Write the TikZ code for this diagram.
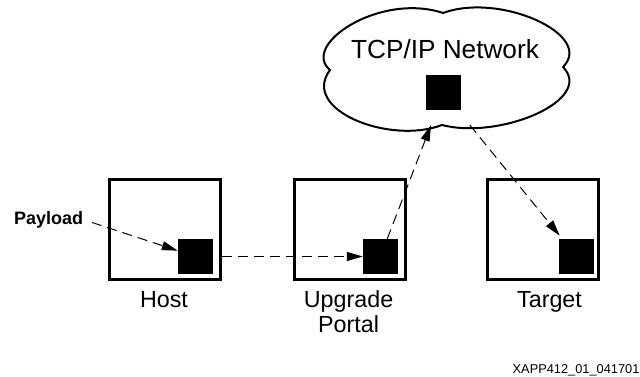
\documentclass[tikz,border=0pt]{standalone}
\usepackage{fontspec}
\setmainfont{Liberation Sans}
\usetikzlibrary{arrows.meta,calc}
\begin{document}
\begin{tikzpicture}[x=1pt,y=-1pt,
  box/.style={draw, line width=2.6pt, minimum width=111.5pt, minimum height=100.5pt, inner sep=0pt},
  chip/.style={fill=black, minimum size=35pt, inner sep=0pt},
  lbl/.style={font=\fontsize{23.3}{26}\selectfont, anchor=base, inner sep=0pt},
  flow/.style={dash pattern=on 10pt off 6pt, line width=1pt, -{Triangle[length=16pt,width=9pt]}},
  cloudline/.style={line width=2pt, line join=round}
]
\useasboundingbox (0,0) rectangle (640,377);

% cloud outline
\draw[cloudline] (330,70) .. controls (300,45) and (380,-8) .. (443,13)
  .. controls (500,-8) and (595,35) .. (563,67)
  .. controls (595,100) and (500,140) .. (442,125)
  .. controls (390,145) and (300,110) .. (330,70) -- cycle;
\node[lbl, font=\fontsize{26.2}{30}\selectfont] (net) at (445,58.3) {TCP/IP Network};
\node[chip] (cs) at (443.5,92.5) {};

% boxes
\node[box] (host) at (165,229.5) {};
\node[box] (upg) at (350,229.5) {};
\node[box] (tgt) at (543,229.5) {};

\node[chip] (hs) at (195.5,256.5) {};
\node[chip] (us) at (380.5,256.5) {};
\node[chip] (ts) at (576.5,256.5) {};

% labels
\node[lbl] (hostl) at (164,307) {Host};
\node[lbl] (upgl) at (348.6,307) {Upgrade};
\node[lbl] (portl) at (348.6,332.7) {Portal};
\node[lbl] (tgtl) at (549.5,307) {Target};
\node[anchor=base west, inner sep=0pt, font=\fontsize{18}{21}\selectfont\bfseries] (pay) at (14,224.3) {Payload};
\node[anchor=base west, inner sep=0pt, font=\fontsize{12.8}{15}\selectfont] (fn) at (512.5,373.5) {XAPP412\_01\_041701};

% flows
\draw[flow, shorten <=9pt] (pay.east) -- (hs);
\draw[flow] (hs.east -| host.east) -- (us);
\draw[flow, shorten >=16pt] (us) -- (cs);
\draw[flow, shorten <=19pt, shorten >=4pt] (cs) -- (ts);
\end{tikzpicture}
\end{document}
